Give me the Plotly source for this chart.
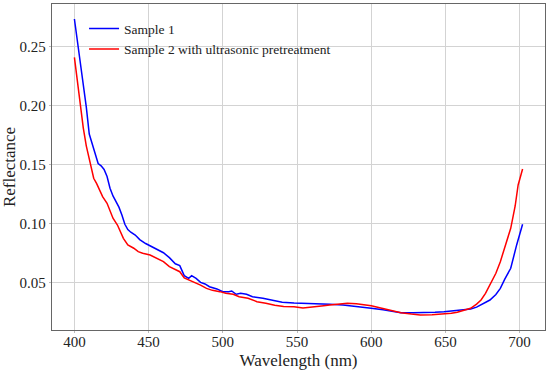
import plotly.graph_objects as go

wl_s1 = [400, 402, 404, 406, 408, 410, 412, 414, 416, 418, 420, 422, 424, 426, 428, 430, 432, 434, 436, 438,
         441, 444, 448, 451, 455, 460, 464, 468, 471, 474, 477, 479, 482, 485, 488, 491, 496, 500, 504, 506,
         509, 512, 516, 520, 527, 532, 540, 548, 558, 565, 572, 581, 588, 595, 600, 608, 614, 620, 628, 636,
         643, 649, 657, 663, 667, 671, 674, 677, 680, 684, 687, 690, 694, 698, 702]
refl_s1 = [0.2735, 0.255, 0.237, 0.218, 0.199, 0.176, 0.167, 0.159, 0.151, 0.149, 0.146, 0.140, 0.130, 0.1235,
           0.119, 0.114, 0.1074, 0.0995, 0.095, 0.0928, 0.0904, 0.0865, 0.0832, 0.0811, 0.0786, 0.0754, 0.0712,
           0.066, 0.0645, 0.056, 0.0537, 0.056, 0.0537, 0.0503, 0.0489, 0.0466, 0.0447, 0.0424, 0.0424, 0.043,
           0.0402, 0.041, 0.0402, 0.0381, 0.0368, 0.0353, 0.0335, 0.0327, 0.0325, 0.0322, 0.0317, 0.0311, 0.0302,
           0.0295, 0.0283, 0.0270, 0.0258, 0.0246, 0.0245, 0.0246, 0.0249, 0.0254, 0.0267, 0.0272, 0.0277, 0.0293,
           0.0311, 0.0330, 0.0353, 0.0400, 0.0452, 0.0530, 0.0622, 0.082, 0.0995]

wl_s2 = [400, 402, 404, 406, 408, 410, 413, 415, 417, 419, 422, 424, 426, 429, 431, 433, 436, 440, 443, 446,
         451, 455, 460, 464, 468, 471, 474, 480, 485, 489, 493, 498, 502, 507, 511, 517, 523, 529, 535, 541,
         548, 554, 557, 563, 568, 572, 578, 584, 590, 596, 600, 605, 609, 615, 620, 627, 633, 641, 649, 654,
         658, 663, 667, 671, 674, 677, 680, 684, 687, 690, 694, 697, 699, 702]
refl_s2 = [0.241, 0.220, 0.199, 0.181, 0.166, 0.154, 0.1385, 0.134, 0.1286, 0.1229, 0.1173, 0.1116, 0.1046,
           0.0989, 0.0932, 0.0876, 0.082, 0.0792, 0.0763, 0.0749, 0.0735, 0.0707, 0.0678, 0.0636, 0.0608, 0.0593,
           0.0540, 0.0508, 0.048, 0.0452, 0.0435, 0.0424, 0.041, 0.0402, 0.0381, 0.0368, 0.0339, 0.0325, 0.0308,
           0.0298, 0.0297, 0.0285, 0.0288, 0.0297, 0.0305, 0.0311, 0.0320, 0.0325, 0.0322, 0.0312, 0.0305, 0.0290,
           0.0277, 0.0260, 0.0246, 0.0234, 0.0226, 0.0228, 0.0232, 0.0240, 0.0249, 0.0265, 0.0283, 0.0318, 0.0353,
           0.0410, 0.048, 0.058, 0.0678, 0.080, 0.0961, 0.115, 0.1328, 0.1464]

names = ["Sample 1", "Sample 2 with ultrasonic pretreatment"]
x_ticks = [400, 450, 500, 550, 600, 650, 700]
y_ticks = [0.05, 0.10, 0.15, 0.20, 0.25]

font = "Times New Roman"

fig = go.Figure()
fig.add_trace(go.Scatter(x=wl_s1, y=refl_s1, mode="lines", name=names[0],
                         line=dict(color="#0000ff", width=1.5)))
fig.add_trace(go.Scatter(x=wl_s2, y=refl_s2, mode="lines", name=names[1],
                         line=dict(color="#ff0000", width=1.5)))

axis_common = dict(showline=True, linecolor="#666666", linewidth=1.3, mirror=True,
                   showgrid=True, gridcolor="#d3d3d3", gridwidth=1, zeroline=False,
                   ticks="outside", ticklen=2, tickcolor="#bbbbbb", automargin=False,
                   tickfont=dict(family=font, size=15, color="#222222"))

fig.update_layout(
    width=550, height=370,
    margin=dict(l=52, r=5, t=4, b=40),
    paper_bgcolor="white", plot_bgcolor="white",
    font=dict(family=font, color="#222222"),
    xaxis=dict(range=[384.9, 717.1], tickvals=x_ticks,
               title=dict(text="Wavelength (nm)", font=dict(family=font, size=17), standoff=6),
               **axis_common),
    yaxis=dict(range=[0.0099, 0.2862], tickvals=y_ticks, tickformat=".2f",
               title=dict(text="Reflectance", font=dict(family=font, size=17), standoff=5),
               **axis_common),
    legend=dict(x=0.065, y=0.972, xanchor="left", yanchor="top",
                bgcolor="rgba(0,0,0,0)", font=dict(family=font, size=13.5, color="#222222"),
                tracegroupgap=0, itemwidth=30),
    showlegend=True,
)

try:
    fig.update_xaxes(ticklabelstandoff=-4)
except Exception:
    pass

fig.write_html("out.html", config={"displayModeBar": False},
               post_script="document.body.style.margin='0';document.body.style.padding='0';")
